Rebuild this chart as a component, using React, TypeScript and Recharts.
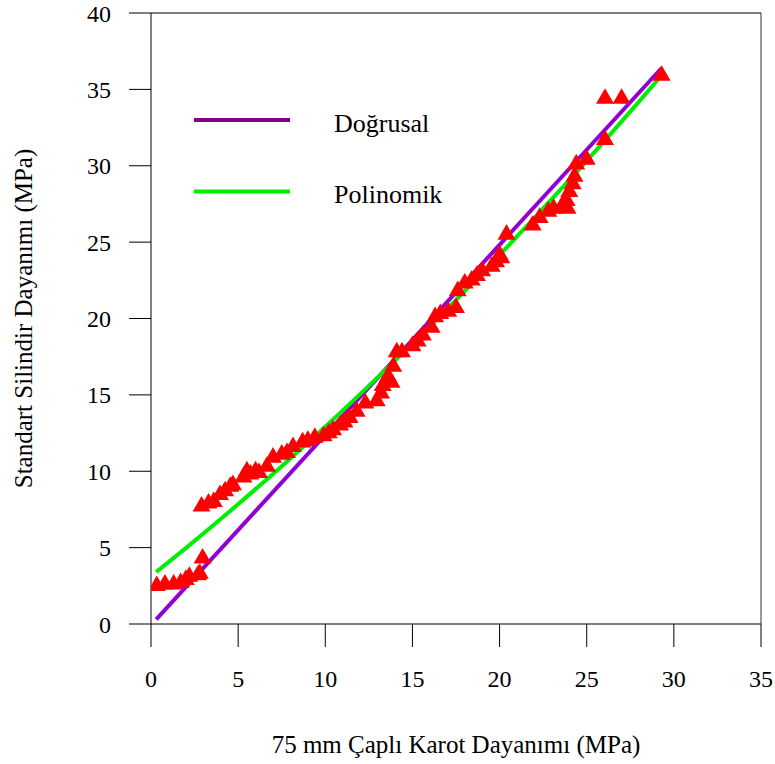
import {
  ComposedChart,
  Scatter,
  Line,
  XAxis,
  YAxis,
  ZAxis,
  ReferenceLine,
} from "recharts";

// ölçülen değerler (okunan)
const karotX = [
  0.33, 0.8, 1.3, 1.7, 2.0, 2.2, 2.7, 2.8, 2.96,
  2.9, 3.3, 3.6, 3.96, 4.25, 4.55, 4.7, 5.3, 5.5, 5.7, 6.0, 6.2, 6.65,
  7.0, 7.5, 7.8, 8.15, 8.7, 9.0, 9.4, 9.9, 10.2, 10.45, 10.85, 11.1, 11.4,
  11.8, 12.3, 12.95, 13.2, 13.3, 13.6, 13.8, 13.9, 14.1, 14.4, 15.0, 15.3,
  15.6, 16.1, 16.3, 16.6, 17.05, 17.5, 17.6, 18.0, 18.4, 18.7, 19.0, 19.55,
  19.8, 20.0, 20.1, 20.4, 21.9, 22.3, 22.8, 23.1, 23.6, 23.85, 23.9, 24.0,
  24.2, 24.3, 24.4, 25.0, 26.05, 26.05, 27.0, 29.3,
];
const silindirY = [
  2.5, 2.6, 2.6, 2.7, 2.9, 3.1, 3.2, 3.3, 4.3,
  7.7, 7.9, 8.0, 8.45, 8.7, 9.0, 9.1, 9.6, 10.0, 9.8, 10.0, 9.9, 10.3,
  10.9, 11.1, 11.2, 11.6, 11.9, 12.0, 12.2, 12.3, 12.5, 12.7, 13.0, 13.2, 13.5,
  13.9, 14.45, 14.6, 15.1, 15.6, 16.2, 15.8, 16.85, 17.8, 17.8, 18.2, 18.5,
  18.9, 19.4, 20.1, 20.3, 20.45, 20.7, 21.8, 22.3, 22.5, 22.8, 23.1, 23.4,
  23.7, 24.15, 23.95, 25.5, 26.1, 26.6, 27.0, 27.2, 27.4, 27.7, 27.2, 28.3,
  28.8, 29.3, 30.1, 30.4, 31.7, 34.4, 34.4, 35.9,
];

// Doğrusal uyum çizgisi
const dogrusalX = [0.3, 29.3];
const dogrusalY = [0.3, 36.4];

// Polinomik uyum eğrisi
const polinomX = [0.3, 2, 4, 6, 8, 10, 12, 14, 16, 18, 20, 22, 24, 26, 28, 29.3];
const polinomY = [3.4, 4.97, 6.87, 8.83, 10.84, 12.92, 15.05, 17.24, 19.49, 21.79, 24.16, 26.58, 29.06, 31.6, 34.2, 35.92];

const xTicks = [0, 5, 10, 15, 20, 25, 30, 35];
const yTicks = [0, 5, 10, 15, 20, 25, 30, 35, 40];

const points = karotX.map((x, i) => ({ x, y: silindirY[i] }));
const dogrusal = dogrusalX.map((x, i) => ({ x, y: dogrusalY[i] }));
const polinom = polinomX.map((x, i) => ({ x, y: polinomY[i] }));

const font = "'Liberation Serif', 'Times New Roman', serif";
const tickStyle = { fill: "#000", fontSize: 24, fontFamily: font };

export default function App() {
  return (
    <div style={{ position: "absolute", left: 0, top: 0, width: 775, height: 764, background: "#fff" }}>
      <ComposedChart
        width={775}
        height={764}
        margin={{ top: 13, right: 14, bottom: 0, left: 0 }}
      >
        <XAxis
          dataKey="x"
          type="number"
          domain={[0, 35]}
          ticks={xTicks}
          height={140}
          tickSize={23}
          tickMargin={23}
          stroke="#000"
          tick={tickStyle}
          allowDataOverflow
          label={{
            value: "75 mm Çaplı Karot Dayanımı (MPa)",
            position: "insideBottom",
            offset: 11,
            style: { fill: "#000", fontSize: 25, fontFamily: font },
          }}
        />
        <YAxis
          type="number"
          domain={[0, 40]}
          ticks={yTicks}
          width={151}
          tickSize={22}
          tickMargin={18}
          stroke="#000"
          tick={tickStyle}
          allowDataOverflow
          label={{
            value: "Standart Silindir Dayanımı (MPa)",
            angle: -90,
            position: "insideLeft",
            offset: 23,
            style: { fill: "#000", fontSize: 25, fontFamily: font, textAnchor: "middle" },
          }}
        />
        <ZAxis type="number" range={[140, 140]} />
        <ReferenceLine x={35} stroke="#777" strokeWidth={1.5} />
        <ReferenceLine y={40} stroke="#000" />
        <Line
          data={dogrusal}
          dataKey="y"
          type="linear"
          stroke="#8f00d3"
          strokeWidth={4}
          dot={false}
          isAnimationActive={false}
        />
        <Line
          data={polinom}
          dataKey="y"
          type="monotone"
          stroke="#00ee00"
          strokeWidth={4}
          dot={false}
          isAnimationActive={false}
        />
        <Scatter data={points} dataKey="y" fill="#ff0000" shape="triangle" isAnimationActive={false} />
      </ComposedChart>
      <svg
        width={500}
        height={230}
        style={{ position: "absolute", left: 0, top: 0, pointerEvents: "none" }}
      >
        <line x1={194} x2={290} y1={120} y2={120} stroke="#800080" strokeWidth={4} />
        <text x={334} y={132} fontSize={26} fontFamily={font} fill="#000">
          Doğrusal
        </text>
        <line x1={194} x2={290} y1={191.5} y2={191.5} stroke="#00ee00" strokeWidth={4} />
        <text x={334} y={203} fontSize={26} fontFamily={font} fill="#000">
          Polinomik
        </text>
      </svg>
    </div>
  );
}
